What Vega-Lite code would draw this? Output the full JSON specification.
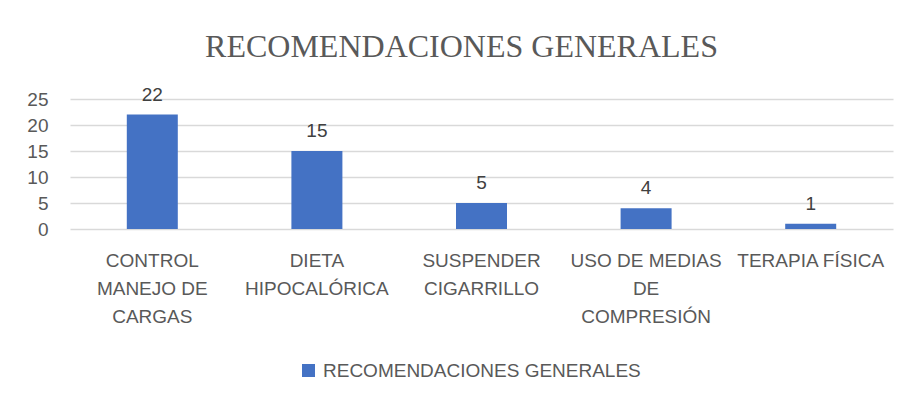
{
  "$schema": "https://vega.github.io/schema/vega-lite/v6.json",
  "autosize": "none",
  "width": 823,
  "height": 130,
  "padding": {"left": 70, "top": 99, "right": 17, "bottom": 177},
  "background": "white",
  "title": {
    "text": "RECOMENDACIONES GENERALES",
    "font": "Liberation Serif",
    "fontSize": 32,
    "fontWeight": "normal",
    "color": "#595959",
    "anchor": "middle",
    "dx": -20,
    "offset": 22
  },
  "data": {
    "values": [
      {"cat": "CONTROL|MANEJO DE|CARGAS", "valor": 22, "serie": "RECOMENDACIONES GENERALES"},
      {"cat": "DIETA|HIPOCALÓRICA", "valor": 15, "serie": "RECOMENDACIONES GENERALES"},
      {"cat": "SUSPENDER|CIGARRILLO", "valor": 5, "serie": "RECOMENDACIONES GENERALES"},
      {"cat": "USO DE MEDIAS|DE|COMPRESIÓN", "valor": 4, "serie": "RECOMENDACIONES GENERALES"},
      {"cat": "TERAPIA FÍSICA", "valor": 1, "serie": "RECOMENDACIONES GENERALES"}
    ]
  },
  "encoding": {
    "x": {
      "field": "cat", "type": "nominal", "sort": null,
      "axis": {
        "title": null, "labelAngle": 0, "domain": false, "ticks": false,
        "labelExpr": "split(datum.label, '|')",
        "labelFont": "Liberation Sans",
        "labelFontSize": 19, "labelColor": "#595959", "labelLineHeight": 28,
        "labelPadding": 22, "labelBaseline": "top", "labelLimit": 0
      }
    },
    "y": {
      "field": "valor", "type": "quantitative",
      "scale": {"domain": [0, 25]},
      "axis": {
        "title": null, "values": [0, 5, 10, 15, 20, 25], "domain": false, "ticks": false,
        "labelFont": "Liberation Sans",
        "labelFontSize": 19, "labelColor": "#595959", "labelPadding": 22,
        "gridColor": "#d9d9d9", "gridWidth": 1.5
      }
    }
  },
  "layer": [
    {
      "mark": {"type": "bar", "size": 51, "color": "#4472C4"},
      "encoding": {
        "color": {
          "field": "serie", "type": "nominal",
          "scale": {"range": ["#4472C4"]},
          "legend": {
            "title": null, "orient": "none", "legendX": 229, "legendY": 262,
            "symbolType": "square", "symbolSize": 170, "symbolStrokeWidth": 0,
            "labelFont": "Liberation Sans", "labelLimit": 0, "labelOffset": 5,
            "labelFontSize": 19, "labelColor": "#595959"
          }
        }
      }
    },
    {
      "mark": {"type": "text", "baseline": "bottom", "dy": -10, "font": "Liberation Sans", "fontSize": 19, "color": "#404040"},
      "encoding": {"text": {"field": "valor", "type": "quantitative"}}
    }
  ],
  "config": {"view": {"stroke": null}}
}
